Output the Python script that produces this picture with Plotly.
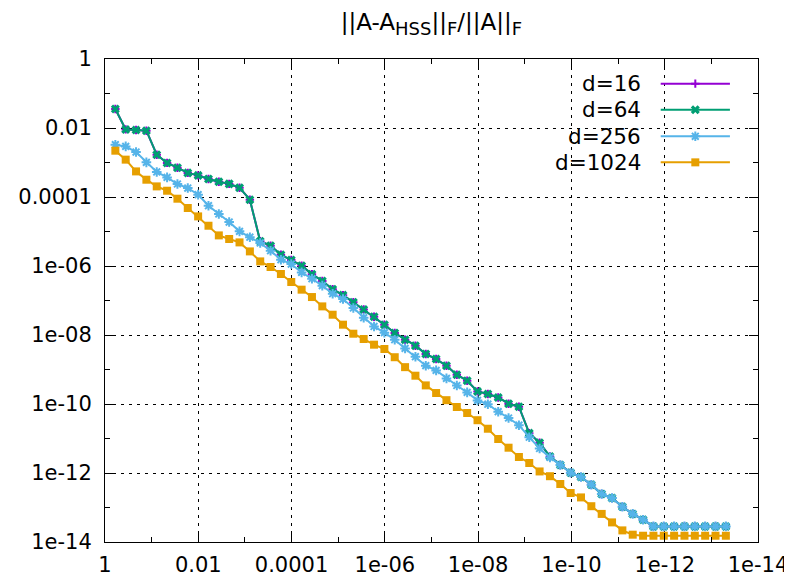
import plotly.graph_objects as go

# tolerance values on the x axis
eps = [6.0e-1, 3.6e-1, 2.16e-1, 1.296e-1, 7.776e-2, 4.6656e-2, 2.79936e-2, 1.679616e-2, 1.0077696e-2, 6.0466e-3,
       3.628e-3, 2.1768e-3, 1.3061e-3, 7.8364e-4, 4.7018e-4, 2.8211e-4, 1.6927e-4, 1.0156e-4, 6.0936e-5, 3.6562e-5,
       2.1937e-5, 1.3162e-5, 7.8973e-6, 4.7384e-6, 2.8430e-6, 1.7058e-6, 1.0235e-6, 6.1410e-7, 3.6846e-7, 2.2107e-7,
       1.3264e-7, 7.9586e-8, 4.7752e-8, 2.8651e-8, 1.7191e-8, 1.0314e-8, 6.1886e-9, 3.7132e-9, 2.2279e-9, 1.3367e-9,
       8.0204e-10, 4.8122e-10, 2.8873e-10, 1.7324e-10, 1.0394e-10, 6.2366e-11, 3.7420e-11, 2.2452e-11, 1.3471e-11, 8.0827e-12,
       4.8496e-12, 2.9098e-12, 1.7459e-12, 1.0475e-12, 6.2851e-13, 3.7711e-13, 2.2626e-13, 1.3576e-13, 8.1456e-14, 4.8874e-14]

d64 = [3.56e-2, 9.1e-3, 8.75e-3, 8.35e-3, 1.68e-3, 9.73e-4, 7.07e-4, 5.0e-4, 4.23e-4, 3.33e-4,
       2.77e-4, 2.40e-4, 1.86e-4, 8.35e-5, 5.24e-6, 3.87e-6, 2.13e-6, 1.49e-6, 1.02e-6, 5.79e-7,
       3.67e-7, 2.13e-7, 1.43e-7, 8.93e-8, 5.52e-8, 3.39e-8, 1.99e-8, 1.14e-8, 7.31e-9, 4.90e-9,
       2.81e-9, 2.01e-9, 1.29e-9, 7.06e-10, 4.73e-10, 2.32e-10, 1.95e-10, 1.55e-10, 1.02e-10, 8.35e-11,
       1.43e-11, 7.55e-12, 3.0e-12, 1.71e-12, 1.02e-12, 7.65e-13, 4.58e-13, 2.46e-13, 1.88e-13, 1.05e-13,
       6.52e-14, 4.43e-14, 2.83e-14, 2.83e-14, 2.83e-14, 2.83e-14, 2.83e-14, 2.83e-14, 2.83e-14, 2.83e-14]

# d=16 is hidden under d=64 in the picture
d16 = list(d64)

d256 = [3.28e-3, 2.93e-3, 2.01e-3, 1.01e-3, 5.31e-4, 3.70e-4, 2.38e-4, 1.82e-4, 1.17e-4, 5.60e-5,
        3.22e-5, 1.88e-5, 1.01e-5, 6.84e-6, 4.65e-6, 2.77e-6, 1.52e-6, 1.14e-6, 6.52e-7, 4.28e-7,
        2.69e-7, 1.57e-7, 1.10e-7, 6.06e-8, 3.17e-8, 1.77e-8, 1.17e-8, 7.31e-9, 4.09e-9, 2.35e-9,
        1.29e-9, 9.42e-10, 5.52e-10, 3.44e-10, 2.17e-10, 1.27e-10, 9.86e-11, 5.98e-11, 3.93e-11, 2.43e-11,
        1.09e-11, 5.13e-12, 2.83e-12, 1.71e-12, 1.02e-12, 7.65e-13, 4.58e-13, 2.46e-13, 1.88e-13, 1.05e-13,
        6.52e-14, 4.43e-14, 2.83e-14, 2.83e-14, 2.83e-14, 2.83e-14, 2.83e-14, 2.83e-14, 2.83e-14, 2.83e-14]

d1024 = [2.20e-3, 1.21e-3, 5.52e-4, 3.17e-4, 2.03e-4, 1.52e-4, 8.93e-5, 4.80e-5, 2.74e-5, 1.47e-5,
         7.71e-6, 6.07e-6, 4.83e-6, 2.65e-6, 1.36e-6, 9.35e-7, 5.86e-7, 3.44e-7, 2.06e-7, 1.26e-7,
         6.75e-8, 3.87e-8, 1.99e-8, 1.09e-8, 7.65e-9, 5.24e-9, 3.93e-9, 2.27e-9, 1.17e-9, 6.61e-10,
         3.46e-10, 2.08e-10, 1.29e-10, 8.18e-11, 5.49e-11, 3.39e-11, 1.92e-11, 9.68e-12, 5.41e-12, 2.91e-12,
         1.95e-12, 1.11e-12, 8.07e-13, 4.80e-13, 2.63e-13, 1.96e-13, 1.09e-13, 6.52e-14, 3.70e-14, 2.17e-14,
         1.63e-14, 1.52e-14, 1.52e-14, 1.52e-14, 1.52e-14, 1.52e-14, 1.52e-14, 1.52e-14, 1.52e-14, 1.52e-14]

series_names = ["d=16", "d=64", "d=256", "d=1024"]
major_vals = [1, 1e-2, 1e-4, 1e-6, 1e-8, 1e-10, 1e-12, 1e-14]
major_text = ["1", "0.01", "0.0001", "1e-06", "1e-08", "1e-10", "1e-12", "1e-14"]
minor_vals = [1e-1, 1e-3, 1e-5, 1e-7, 1e-9, 1e-11, 1e-13]

colors = ["#9400d3", "#009e73", "#56b4e9", "#e69f00"]
styles = [
    dict(symbol="cross-thin-open", size=6, line=dict(width=2, color=colors[0])),
    dict(symbol="x", size=8, line=dict(width=0)),
    dict(symbol="asterisk-open", size=8, line=dict(width=2, color=colors[2])),
    dict(symbol="square", size=8, line=dict(width=0)),
]

FONT = "DejaVu Sans, Verdana, sans-serif"

fig = go.Figure()
for name, ys, c, st in zip(series_names, [d16, d64, d256, d1024], colors, styles):
    fig.add_trace(go.Scatter(x=eps, y=ys, mode="lines+markers", name=name,
                             line=dict(color=c, width=2),
                             marker=dict(color=c, **st), showlegend=False))

# gnuplot-like key: text on the left, sample on the right
key_rows = [0.949, 0.895, 0.840, 0.786]
for name, c, st, yk in zip(series_names, colors, styles, key_rows):
    fig.add_trace(go.Scatter(x=[0.851, 0.957], y=[yk, yk], mode="lines", xaxis="x2", yaxis="y2",
                             line=dict(color=c, width=2), showlegend=False, hoverinfo="skip"))
    fig.add_trace(go.Scatter(x=[0.904], y=[yk], mode="markers", xaxis="x2", yaxis="y2",
                             marker=dict(color=c, **st), showlegend=False, hoverinfo="skip"))
    fig.add_annotation(x=0.824, y=yk, xref="paper", yref="paper", text=name, showarrow=False,
                       xanchor="right", yanchor="middle", font=dict(family=FONT, size=21.5, color="black"))

axis_common = dict(
    type="log", showline=True, linecolor="black", linewidth=1, mirror="ticks",
    ticks="inside", ticklen=9, tickwidth=1, tickcolor="black",
    tickvals=major_vals, ticktext=major_text, automargin=False,
    showgrid=True, gridcolor="black", gridwidth=1, griddash="3px,5px",
    zeroline=False, tickfont=dict(family=FONT, size=21, color="black"),
    minor=dict(tickvals=minor_vals, ticks="inside", ticklen=5, tickcolor="black", showgrid=False),
)

# the page body adds an 8px offset, so the figure is sized to fit the window
fig.update_layout(
    width=784, height=573,
    margin=dict(l=97, r=34, t=51, b=39),
    paper_bgcolor="white", plot_bgcolor="white",
    title=dict(text="||A-A<sub><span style='font-size:18px'>HSS</span></sub>||<sub><span style='font-size:18px'>F</span></sub>/||A||<sub><span style='font-size:18px'>F</span></sub>",
               x=0.5, xref="paper", xanchor="center", y=0.975, yref="container", yanchor="middle",
               font=dict(family=FONT, size=23, color="black")),
    xaxis=dict(range=[0, -14], ticklabelstandoff=4, **axis_common),
    yaxis=dict(range=[-14, 0], ticklabelstandoff=8, **axis_common),
    xaxis2=dict(overlaying="x", range=[0, 1], visible=False, fixedrange=True),
    yaxis2=dict(overlaying="y", range=[0, 1], visible=False, fixedrange=True),
)

fig.write_html("out.html")
